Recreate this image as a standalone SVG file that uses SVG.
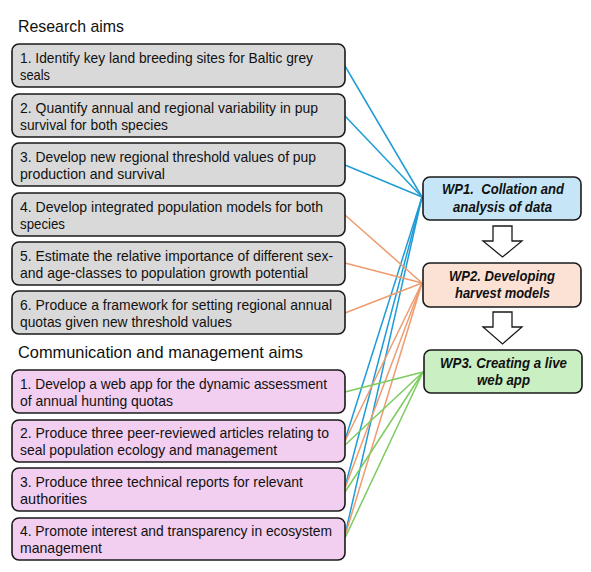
<svg xmlns="http://www.w3.org/2000/svg" width="591" height="572" viewBox="0 0 591 572">
<style>
.box{stroke:#1a1a1a;stroke-width:1.6}
.g{fill:#d9d9d9}
.p{fill:#f2cef0}
.t{font-family:"Liberation Sans",Arial,sans-serif;font-size:15px;fill:#111}
.h{font-family:"Liberation Sans",Arial,sans-serif;font-size:17px;fill:#111}
.w{font-family:"Liberation Sans",Arial,sans-serif;font-size:15px;font-weight:bold;font-style:italic;fill:#111}
.cb{stroke:#1f9bd6;stroke-width:1.5;fill:none}
.co{stroke:#ee9b6e;stroke-width:1.5;fill:none}
.cg{stroke:#7ccb5e;stroke-width:1.5;fill:none}
.arr{fill:#fff;stroke:#1a1a1a;stroke-width:1.3;stroke-linejoin:miter}
</style>
<rect width="591" height="572" fill="#fff"/>
<text class="h" x="18" y="32" textLength="106" lengthAdjust="spacingAndGlyphs">Research aims</text>
<text class="h" x="18" y="358" textLength="285" lengthAdjust="spacingAndGlyphs">Communication and management aims</text>
<g id="connectors">
<line class="cb" x1="345" y1="66" x2="422" y2="197"/>
<line class="cb" x1="345" y1="116" x2="422" y2="197"/>
<line class="cb" x1="345" y1="165" x2="422" y2="197"/>
<line class="cb" x1="345" y1="440" x2="422" y2="197"/>
<line class="cb" x1="345" y1="487" x2="422" y2="197"/>
<line class="cb" x1="345" y1="535" x2="422" y2="197"/>
<line class="co" x1="345" y1="215" x2="422" y2="283"/>
<line class="co" x1="345" y1="263" x2="422" y2="283"/>
<line class="co" x1="345" y1="313" x2="422" y2="283"/>
<line class="co" x1="345" y1="441" x2="422" y2="283"/>
<line class="co" x1="345" y1="488" x2="422" y2="283"/>
<line class="co" x1="345" y1="536" x2="422" y2="283"/>
<line class="cg" x1="345" y1="392" x2="423" y2="372"/>
<line class="cg" x1="345" y1="445" x2="423" y2="372"/>
<line class="cg" x1="345" y1="492" x2="423" y2="372"/>
<line class="cg" x1="345" y1="538" x2="423" y2="372"/>
</g>
<g id="r1"><rect class="box g" x="12" y="44" width="333" height="43" rx="7"/>
<text class="t" x="20" y="63" textLength="293" lengthAdjust="spacingAndGlyphs">1. Identify key land breeding sites for Baltic grey</text>
<text class="t" x="20" y="80" textLength="30" lengthAdjust="spacingAndGlyphs">seals</text></g>
<g id="r2"><rect class="box g" x="12" y="94" width="333" height="43" rx="7"/>
<text class="t" x="20" y="113" textLength="298" lengthAdjust="spacingAndGlyphs">2. Quantify annual and regional variability in pup</text>
<text class="t" x="20" y="130" textLength="148" lengthAdjust="spacingAndGlyphs">survival for both species</text></g>
<g id="r3"><rect class="box g" x="12" y="143" width="333" height="43" rx="7"/>
<text class="t" x="20" y="162" textLength="296" lengthAdjust="spacingAndGlyphs">3. Develop new regional threshold values of pup</text>
<text class="t" x="20" y="179" textLength="145" lengthAdjust="spacingAndGlyphs">production and survival</text></g>
<g id="r4"><rect class="box g" x="12" y="193" width="333" height="43" rx="7"/>
<text class="t" x="20" y="212" textLength="303" lengthAdjust="spacingAndGlyphs">4. Develop integrated population models for both</text>
<text class="t" x="20" y="229" textLength="45" lengthAdjust="spacingAndGlyphs">species</text></g>
<g id="r5"><rect class="box g" x="12" y="242" width="333" height="43" rx="7"/>
<text class="t" x="20" y="261" textLength="313" lengthAdjust="spacingAndGlyphs">5. Estimate the relative importance of different sex-</text>
<text class="t" x="20" y="278" textLength="288" lengthAdjust="spacingAndGlyphs">and age-classes to population growth potential</text></g>
<g id="r6"><rect class="box g" x="12" y="291" width="333" height="43" rx="7"/>
<text class="t" x="20" y="310" textLength="312" lengthAdjust="spacingAndGlyphs">6. Produce a framework for setting regional annual</text>
<text class="t" x="20" y="327" textLength="212" lengthAdjust="spacingAndGlyphs">quotas given new threshold values</text></g>
<g id="c1"><rect class="box p" x="12" y="370" width="333" height="43" rx="7"/>
<text class="t" x="20" y="388.5" textLength="307" lengthAdjust="spacingAndGlyphs">1. Develop a web app for the dynamic assessment</text>
<text class="t" x="20" y="405.5" textLength="153" lengthAdjust="spacingAndGlyphs">of annual hunting quotas</text></g>
<g id="c2"><rect class="box p" x="12" y="420" width="333" height="42" rx="7"/>
<text class="t" x="20" y="438" textLength="309" lengthAdjust="spacingAndGlyphs">2. Produce three peer-reviewed articles relating to</text>
<text class="t" x="20" y="455" textLength="257" lengthAdjust="spacingAndGlyphs">seal population ecology and management</text></g>
<g id="c3"><rect class="box p" x="12" y="468" width="333" height="43" rx="7"/>
<text class="t" x="20" y="486.5" textLength="283" lengthAdjust="spacingAndGlyphs">3. Produce three technical reports for relevant</text>
<text class="t" x="20" y="503.5" textLength="67" lengthAdjust="spacingAndGlyphs">authorities</text></g>
<g id="c4"><rect class="box p" x="12" y="518" width="333" height="42" rx="7"/>
<text class="t" x="20" y="536" textLength="312" lengthAdjust="spacingAndGlyphs">4. Promote interest and transparency in ecosystem</text>
<text class="t" x="20" y="553" textLength="82" lengthAdjust="spacingAndGlyphs">management</text></g>
<g id="wp1"><rect class="box" fill="#c6e6f7" x="423" y="177" width="158" height="43" rx="7"/>
<text class="w" x="442" y="194" textLength="122" lengthAdjust="spacingAndGlyphs" xml:space="preserve">WP1.  Collation and</text>
<text class="w" x="453" y="211.5" textLength="99" lengthAdjust="spacingAndGlyphs">analysis of data</text></g>
<g id="arrow1"><polygon class="arr" points="493,226 512,226 512,241 522,241 502.5,257 483,241 493,241"/></g>
<g id="wp2"><rect class="box" fill="#fbe2d5" x="423" y="263" width="158" height="44" rx="7"/>
<text class="w" x="449" y="280.5" textLength="106" lengthAdjust="spacingAndGlyphs">WP2. Developing</text>
<text class="w" x="455" y="298" textLength="95" lengthAdjust="spacingAndGlyphs">harvest models</text></g>
<g id="arrow2"><polygon class="arr" points="493,312 512,312 512,327 522,327 502.5,344 483,327 493,327"/></g>
<g id="wp3"><rect class="box" fill="#c9efc3" x="424" y="350" width="158" height="43" rx="7"/>
<text class="w" x="440" y="367.5" textLength="127" lengthAdjust="spacingAndGlyphs">WP3. Creating a live</text>
<text class="w" x="477" y="385" textLength="53" lengthAdjust="spacingAndGlyphs">web app</text></g>
</svg>
